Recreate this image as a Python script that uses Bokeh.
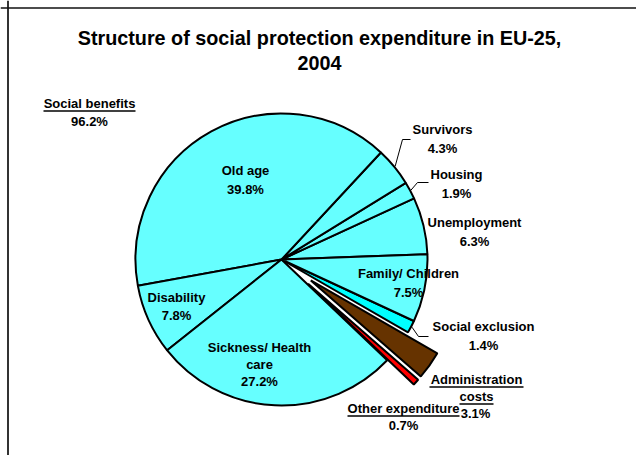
import numpy as np
from bokeh.plotting import figure
from bokeh.models import Range1d, Span, ColumnDataSource
from bokeh.core.properties import value
from bokeh.embed import file_html
from bokeh.resources import INLINE

# ---------------- data ----------------
categories = ["Unemployment", "Housing", "Survivors", "Old age", "Disability",
              "Sickness/ Health care", "Other expenditure", "Administration costs",
              "Social exclusion", "Family/ Children"]
shares = [6.3, 1.9, 4.3, 39.8, 7.8, 27.2, 0.7, 3.1, 1.4, 7.5]
exploded = [False, False, False, False, False, False, True, True, False, False]
colors = ["#66FFFF", "#66FFFF", "#66FFFF", "#66FFFF", "#66FFFF", "#66FFFF",
          "#FF0000", "#663300", "#00FFFF", "#66FFFF"]
social_benefits_total = 96.2
title_lines = ["Structure of social protection expenditure in EU-25,", "2004"]

# ---------------- layout ----------------
W, H = 636, 455
def pg(px, py):
    """page pixel -> data coordinate"""
    return px, H - py

CX, CY = pg(281, 259)
R = 146
START_DEG = 2.1
EXPLODE = 36

FONT = value("Liberation Sans")

p = figure(width=W, height=H, output_backend="svg", toolbar_location=None,
           x_range=Range1d(0, W), y_range=Range1d(0, H), min_border=0,
           background_fill_color="white", border_fill_color="white")
p.axis.visible = False
p.grid.visible = False
p.outline_line_color = None

# frame (left/top, chart continues beyond window)
p.add_layout(Span(location=7.5, dimension="height", line_color="#333333", line_width=2))
p.add_layout(Span(location=H - 7.5, dimension="width", line_color="#111111", line_width=1.5))

# ---------------- pie ----------------
cum = np.concatenate([[0.0], np.cumsum(shares)])
start = np.radians(START_DEG + 3.6 * cum[:-1])
end = np.radians(START_DEG + 3.6 * cum[1:])
mid = (start + end) / 2
off = np.array([EXPLODE if e else 0 for e in exploded])
xs = CX + off * np.cos(mid)
ys = CY + off * np.sin(mid)

src = ColumnDataSource(dict(x=xs, y=ys, start=start, end=end, color=colors, name=categories))
p.wedge(x="x", y="y", radius=R, start_angle="start", end_angle="end",
        fill_color="color", line_color="black", line_width=2, source=src)

# ---------------- labels ----------------
def label(lines, px, py, step=18, size="13px", underline=None):
    for i, t in enumerate(lines):
        x, y = pg(px, py + i * step)
        p.text(x=[x], y=[y], text=[t], text_align="center", text_baseline="middle",
               text_font=FONT, text_font_style="bold", text_font_size=size, text_color="black")
        if underline and underline[i]:
            hw = underline[i]
            p.segment(x0=[x - hw], y0=[y - 7.5], x1=[x + hw], y1=[y - 7.5],
                      line_color="black", line_width=1.5)

pct = {c: f"{v:.1f}%" for c, v in zip(categories, shares)}

label(title_lines, 319, 37, step=25, size="19.8px")
label(["Social benefits", f"{social_benefits_total:.1f}%"], 89, 103, underline=[46, 0])
label(["Old age", pct["Old age"]], 245, 170, step=19)
label(["Survivors", pct["Survivors"]], 442, 129, step=19)
label(["Housing", pct["Housing"]], 456, 174, step=19)
label(["Unemployment", pct["Unemployment"]], 474, 222, step=19)
label(["Family/ Children", pct["Family/ Children"]], 408, 273, step=19)
label(["Disability", pct["Disability"]], 176, 297, step=18)
label(["Sickness/ Health", "care", pct["Sickness/ Health care"]], 259, 347, step=17)
label(["Social exclusion", pct["Social exclusion"]], 483, 326, step=19)
label(["Administration", "costs"], 476, 379, step=17, underline=[47, 17])
label([pct["Administration costs"]], 475, 413)
label(["Other expenditure", pct["Other expenditure"]], 403, 408, step=17, underline=[56, 0])

# leader lines
leaders = {"Survivors": [(402, 139), (410, 139)],
           "Housing": [(417, 182), (428, 182)],
           "Social exclusion": [(418, 336), (428, 336)]}
for name, pts in leaders.items():
    i = categories.index(name)
    sx = xs[i] + (R + 1) * np.cos(mid[i])
    sy = ys[i] + (R + 1) * np.sin(mid[i])
    lx = [sx] + [pg(a, b)[0] for a, b in pts]
    ly = [sy] + [pg(a, b)[1] for a, b in pts]
    p.line(lx, ly, line_color="black", line_width=1)

open("out.html", "w").write(file_html(p, INLINE))
